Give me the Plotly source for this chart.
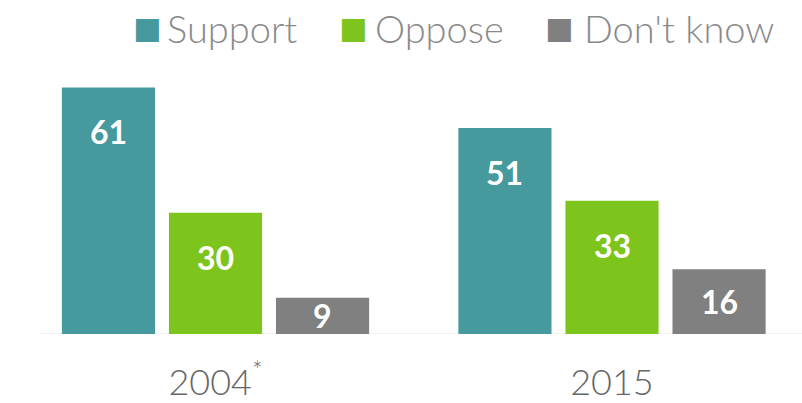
import plotly.graph_objects as go

categories = ["2004<sup>*</sup>", "2015"]
series_names = ["Support", "Oppose", "Don't know"]
support = [61, 51]
oppose = [30, 33]
dont_know = [9, 16]
colors = ["#46999d", "#7dc51c", "#808080"]

values = [support, oppose, dont_know]
bargap = 0.19
bargroupgap = 0.13

fig = go.Figure()
for name, vals, col in zip(series_names, values, colors):
    fig.add_trace(go.Bar(x=categories, y=vals, name=name, marker=dict(color=col, line=dict(width=0)),
                         showlegend=False, hoverinfo="skip"))

slot = (1 - bargap) / 3
annotations = []
for si, vals in enumerate(values):
    off = (si - 1) * slot
    for ci, v in enumerate(vals):
        ly = max(v - 11, v / 2)
        annotations.append(dict(x=ci + off, y=ly, xref="x", yref="y", text=str(v), showarrow=False,
                                font=dict(family="Lato", size=32, color="white", weight=700),
                                xanchor="center", yanchor="middle"))

# legend as text annotations (square + label)
sq_x = [147, 353, 559]
txt_x = [165, 373, 582]
for name, col, sx, tx in zip(series_names, colors, sq_x, txt_x):
    annotations.append(dict(x=sx / 802, y=(334 - 28) / 274, xref="paper", yref="paper",
                            text="■", showarrow=False, xanchor="center", yanchor="middle",
                            font=dict(family="DejaVu Sans", size=30, color=col)))
    annotations.append(dict(x=tx / 802, y=(334 - 28) / 274, xref="paper", yref="paper",
                            text=name, showarrow=False, xanchor="left", yanchor="middle",
                            font=dict(family="Lato", size=38, color="#8a8a8a", weight=300)))

fig.update_layout(
    width=802, height=403,
    margin=dict(l=0, r=0, t=60, b=69),
    plot_bgcolor="white", paper_bgcolor="white",
    barmode="group", bargap=bargap, bargroupgap=bargroupgap,
    annotations=annotations,
    xaxis=dict(range=[-0.5435, 1.4792], showgrid=False, zeroline=False, showline=False, ticks="",
               tickfont=dict(family="Lato", size=36, color="#666666", weight=300), ticklabelstandoff=24),
    yaxis=dict(range=[0, 67.8], visible=False, showgrid=False, zeroline=False),
    shapes=[dict(type="line", xref="paper", yref="y", x0=0.05, x1=1, y0=0, y1=0,
                 line=dict(color="#e6e6e6", width=1), layer="below")],
)

fig.write_html("out.html")
